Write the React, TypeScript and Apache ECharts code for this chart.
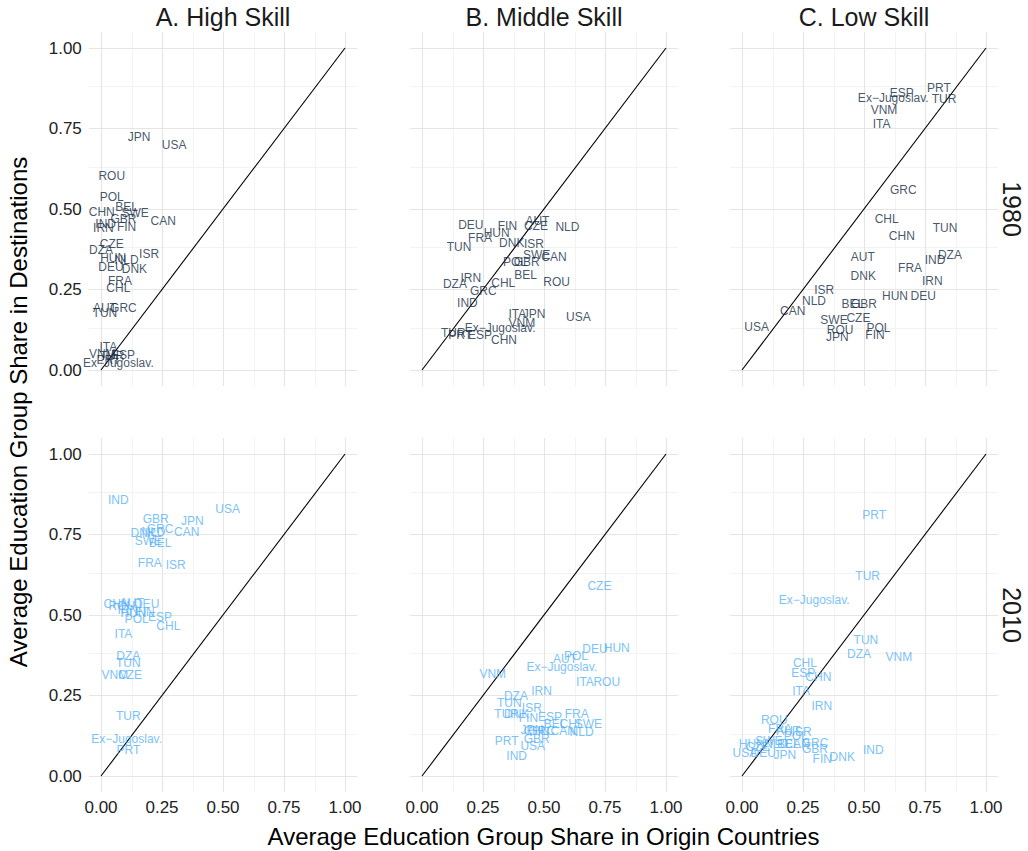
import React, { useEffect, useRef } from "react";
import * as echarts from "echarts";

type Pt = [string, number, number];

// ---- Data: [country, origin share (x), destination share (y)] ----
const high1980: Pt[] = [
  ["JPN", 0.156, 0.724], ["USA", 0.30, 0.70], ["ROU", 0.044, 0.603], ["POL", 0.044, 0.538],
  ["CHN", 0.003, 0.49], ["BEL", 0.105, 0.505], ["SWE", 0.14, 0.488], ["GBR", 0.092, 0.468],
  ["CAN", 0.255, 0.463], ["IND", 0.019, 0.452], ["IRN", 0.01, 0.442], ["FIN", 0.105, 0.445],
  ["CZE", 0.044, 0.39], ["DZA", 0.0, 0.372], ["HUN", 0.05, 0.349], ["NLD", 0.105, 0.342],
  ["ISR", 0.197, 0.359], ["DEU", 0.041, 0.321], ["DNK", 0.137, 0.314], ["FRA", 0.078, 0.276],
  ["CHL", 0.071, 0.256], ["AUT", 0.016, 0.193], ["GRC", 0.092, 0.193], ["TUN", 0.016, 0.178],
  ["ITA", 0.03, 0.072], ["VNM", 0.005, 0.05], ["TUR", 0.045, 0.045], ["ESP", 0.09, 0.046],
  ["PRT", 0.03, 0.03], ["Ex\u2212Jugoslav.", 0.071, 0.021],
];
const middle1980: Pt[] = [
  ["DEU", 0.2, 0.45], ["FIN", 0.35, 0.448], ["AUT", 0.473, 0.463], ["CZE", 0.467, 0.448],
  ["NLD", 0.596, 0.443], ["HUN", 0.306, 0.425], ["FRA", 0.238, 0.411], ["TUN", 0.152, 0.383],
  ["DNK", 0.368, 0.393], ["ISR", 0.459, 0.391], ["SWE", 0.47, 0.357], ["CAN", 0.541, 0.352],
  ["POL", 0.381, 0.334], ["GBR", 0.429, 0.334], ["BEL", 0.425, 0.295], ["DZA", 0.135, 0.267],
  ["IRN", 0.2, 0.285], ["CHL", 0.333, 0.271], ["ROU", 0.552, 0.274], ["GRC", 0.251, 0.246],
  ["IND", 0.186, 0.209], ["ITA", 0.391, 0.173], ["JPN", 0.459, 0.173], ["USA", 0.641, 0.166],
  ["VNM", 0.409, 0.147], ["Ex\u2212Jugoslav.", 0.32, 0.131], ["TUR", 0.128, 0.116],
  ["PRT", 0.156, 0.109], ["ESP", 0.238, 0.109], ["CHN", 0.336, 0.093],
];
const low1980: Pt[] = [
  ["PRT", 0.807, 0.875], ["ESP", 0.655, 0.859], ["Ex\u2212Jugoslav.", 0.62, 0.844], ["TUR", 0.828, 0.841],
  ["VNM", 0.582, 0.807], ["ITA", 0.572, 0.763], ["GRC", 0.661, 0.559], ["CHL", 0.593, 0.469],
  ["CHN", 0.655, 0.417], ["TUN", 0.832, 0.44], ["AUT", 0.495, 0.352], ["DZA", 0.852, 0.357],
  ["IND", 0.791, 0.342], ["FRA", 0.689, 0.318], ["DNK", 0.497, 0.293], ["IRN", 0.78, 0.276],
  ["ISR", 0.337, 0.248], ["HUN", 0.627, 0.231], ["DEU", 0.743, 0.231], ["NLD", 0.295, 0.214],
  ["BEL", 0.454, 0.204], ["GBR", 0.5, 0.204], ["CAN", 0.208, 0.183], ["SWE", 0.377, 0.155],
  ["CZE", 0.477, 0.16], ["USA", 0.06, 0.135], ["ROU", 0.402, 0.124], ["POL", 0.559, 0.13],
  ["JPN", 0.391, 0.104], ["FIN", 0.545, 0.109],
];
const high2010: Pt[] = [
  ["IND", 0.071, 0.857], ["USA", 0.519, 0.829], ["GBR", 0.224, 0.798], ["JPN", 0.374, 0.793],
  ["GRC", 0.242, 0.766], ["CAN", 0.351, 0.759], ["DNK", 0.173, 0.754], ["NLD", 0.215, 0.757],
  ["SWE", 0.194, 0.73], ["BEL", 0.242, 0.723], ["FRA", 0.2, 0.66], ["ISR", 0.306, 0.654],
  ["CHN", 0.064, 0.533], ["AUT", 0.126, 0.536], ["DEU", 0.187, 0.533], ["ROU", 0.085, 0.528],
  ["HUN", 0.133, 0.507], ["IRN", 0.11, 0.515], ["FIN", 0.18, 0.51], ["POL", 0.146, 0.487],
  ["ESP", 0.242, 0.495], ["CHL", 0.276, 0.466], ["ITA", 0.092, 0.441], ["DZA", 0.112, 0.373],
  ["TUN", 0.112, 0.35], ["VNM", 0.057, 0.314], ["CZE", 0.119, 0.314], ["TUR", 0.112, 0.186],
  ["Ex\u2212Jugoslav.", 0.105, 0.114], ["PRT", 0.112, 0.081],
];
const middle2010: Pt[] = [
  ["CZE", 0.727, 0.59], ["HUN", 0.798, 0.398], ["DEU", 0.709, 0.393], ["POL", 0.631, 0.373],
  ["AUT", 0.586, 0.362], ["Ex\u2212Jugoslav.", 0.573, 0.34], ["VNM", 0.29, 0.317], ["ITA", 0.668, 0.293],
  ["ROU", 0.757, 0.293], ["IRN", 0.49, 0.265], ["DZA", 0.385, 0.248], ["TUN", 0.358, 0.228],
  ["ISR", 0.45, 0.212], ["TUR", 0.347, 0.192], ["DNK", 0.388, 0.192], ["FIN", 0.436, 0.179],
  ["ESP", 0.525, 0.182], ["FRA", 0.634, 0.193], ["BEL", 0.545, 0.16], ["CHL", 0.613, 0.16],
  ["SWE", 0.682, 0.16], ["CAN", 0.579, 0.141], ["NLD", 0.654, 0.138], ["JPN", 0.45, 0.143],
  ["CHN", 0.47, 0.14], ["GRC", 0.49, 0.14], ["GBR", 0.47, 0.114], ["PRT", 0.347, 0.11],
  ["USA", 0.454, 0.093], ["IND", 0.388, 0.062],
];
const low2010: Pt[] = [
  ["PRT", 0.542, 0.81], ["TUR", 0.515, 0.621], ["Ex\u2212Jugoslav.", 0.296, 0.547], ["TUN", 0.508, 0.422],
  ["DZA", 0.48, 0.379], ["VNM", 0.643, 0.369], ["CHL", 0.258, 0.352], ["ESP", 0.251, 0.321],
  ["CHN", 0.313, 0.308], ["ITA", 0.242, 0.265], ["IRN", 0.327, 0.218], ["ROU", 0.132, 0.174],
  ["FRA", 0.156, 0.145], ["AUT", 0.19, 0.14], ["ISR", 0.245, 0.138], ["POL", 0.22, 0.125],
  ["GRC", 0.299, 0.102], ["GBR", 0.299, 0.083], ["FIN", 0.329, 0.052], ["DNK", 0.411, 0.06],
  ["IND", 0.538, 0.081], ["JPN", 0.176, 0.065], ["USA", 0.012, 0.072], ["DEU", 0.087, 0.072],
  ["HUN", 0.04, 0.1], ["CZE", 0.065, 0.09], ["SWE", 0.11, 0.108], ["NLD", 0.14, 0.1],
  ["BEL", 0.19, 0.1], ["CAN", 0.225, 0.1],
];

const panelTitles = ["A. High Skill", "B. Middle Skill", "C. Low Skill"];
const years = ["1980", "2010"];
const tickValues = [0, 0.25, 0.5, 0.75, 1];
const minorValues = [0.125, 0.375, 0.625, 0.875];
const diagonal = [[0, 0], [1, 1]];

const panels: Pt[][][] = [
  [high1980, middle1980, low1980],
  [high2010, middle2010, low2010],
];
const yearColors = ["#132B43", "#56B1F7"];

// ---- Layout ----
const colX0 = [101, 422, 742];
const rowY0 = [370, 776];
const scaleX = 244;
const scaleY = 322;
const LO = -0.05;
const HI = 1.05;
const FONT = "'Liberation Sans', Arial, Helvetica, sans-serif";

export default function App() {
  const ref = useRef<HTMLDivElement>(null);
  useEffect(() => {
    if (!ref.current) return;
    const chart = echarts.init(ref.current, null, { renderer: "svg" });
    const grid: any[] = [];
    const xAxis: any[] = [];
    const yAxis: any[] = [];
    const series: any[] = [];
    const graphic: any[] = [];
    let idx = 0;
    for (let r = 0; r < 2; r++) {
      for (let c = 0; c < 3; c++) {
        const left = colX0[c] + LO * scaleX;
        const top = rowY0[r] - HI * scaleY;
        grid.push({ left, top, width: (HI - LO) * scaleX, height: (HI - LO) * scaleY, containLabel: false });
        const showX = r === 1;
        const showY = c === 0;
        xAxis.push({
          type: "value", gridIndex: idx, min: LO, max: HI,
          axisLine: { show: false }, splitLine: { show: false },
          axisTick: { show: showX, customValues: tickValues, length: 4, lineStyle: { color: "#333", width: 1 } },
          axisLabel: {
            show: showX, customValues: tickValues, fontSize: 17, color: "#222", fontFamily: FONT, margin: 7,
            formatter: (v: number) => v.toFixed(2),
          },
        });
        yAxis.push({
          type: "value", gridIndex: idx, min: LO, max: HI,
          axisLine: { show: false }, splitLine: { show: false },
          axisTick: { show: showY, customValues: tickValues, length: 4, lineStyle: { color: "#333", width: 1 } },
          axisLabel: {
            show: showY, customValues: tickValues, fontSize: 17, color: "#222", fontFamily: FONT, margin: 7,
            formatter: (v: number) => v.toFixed(2),
          },
        });
        // grid lines
        series.push({
          type: "line", xAxisIndex: idx, yAxisIndex: idx, data: [], silent: true, z: 0,
          markLine: {
            silent: true, symbol: "none", label: { show: false }, animation: false, z: 0,
            lineStyle: { color: "#f3f3f3", width: 1, type: "solid" },
            data: [...minorValues.map((v) => ({ xAxis: v })), ...minorValues.map((v) => ({ yAxis: v }))],
          },
        });
        series.push({
          type: "line", xAxisIndex: idx, yAxisIndex: idx, data: [], silent: true, z: 1,
          markLine: {
            silent: true, symbol: "none", label: { show: false }, animation: false, z: 1,
            lineStyle: { color: "#e5e5e5", width: 1.1, type: "solid" },
            data: [...tickValues.map((v) => ({ xAxis: v })), ...tickValues.map((v) => ({ yAxis: v }))],
          },
        });
        // 45 degree line
        series.push({
          type: "line", xAxisIndex: idx, yAxisIndex: idx, data: diagonal, symbol: "none", silent: true, z: 10,
          lineStyle: { color: "#000", width: 1.1 },
        });
        // country labels
        series.push({
          type: "scatter", xAxisIndex: idx, yAxisIndex: idx, z: 11, symbolSize: 1,
          itemStyle: { color: "rgba(0,0,0,0)" },
          data: panels[r][c].map((p) => ({ name: p[0], value: [p[1], p[2]] })),
          label: {
            show: true, position: "inside", formatter: "{b}", fontSize: 12, fontFamily: FONT,
            color: yearColors[r],
          },
          emphasis: { disabled: true },
        });
        idx++;
      }
    }
    // strip titles
    for (let c = 0; c < 3; c++) {
      graphic.push({
        type: "text", x: colX0[c] + 0.5 * scaleX, y: 17,
        style: { text: panelTitles[c], fontSize: 25, fontFamily: FONT, fill: "#1a1a1a", textAlign: "center", textVerticalAlign: "middle" },
      });
    }
    for (let r = 0; r < 2; r++) {
      graphic.push({
        type: "text", x: 1012, y: rowY0[r] - 0.5 * scaleY, rotation: -Math.PI / 2,
        style: { text: years[r], fontSize: 25, fontFamily: FONT, fill: "#1a1a1a", textAlign: "center", textVerticalAlign: "middle" },
      });
    }
    graphic.push({
      type: "text", x: 18, y: (rowY0[0] - HI * scaleY + rowY0[1] - LO * scaleY) / 2, rotation: Math.PI / 2,
      style: { text: "Average Education Group Share in Destinations", fontSize: 24, fontFamily: FONT, fill: "#000", textAlign: "center", textVerticalAlign: "middle" },
    });
    graphic.push({
      type: "text", x: (colX0[0] + LO * scaleX + colX0[2] + HI * scaleX) / 2, y: 836,
      style: { text: "Average Education Group Share in Origin Countries", fontSize: 24, fontFamily: FONT, fill: "#000", textAlign: "center", textVerticalAlign: "middle" },
    });

    chart.setOption({
      animation: false,
      backgroundColor: "#fff",
      grid, xAxis, yAxis, series, graphic,
    });
    return () => chart.dispose();
  }, []);
  return <div ref={ref} style={{ position: "fixed", left: 0, top: 0, width: 1028, height: 851 }} />;
}
